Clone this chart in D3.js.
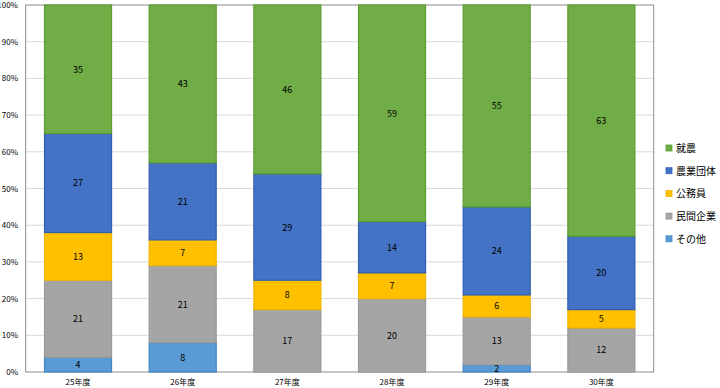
<!DOCTYPE html>
<html><head><meta charset="utf-8">
<script src="https://cdn.jsdelivr.net/npm/d3@7"></script>
<style>body{margin:0;background:#fff;}svg{display:block;font-family:"Noto Sans CJK JP","Noto Sans",sans-serif;}</style>
</head><body>
<svg id="chart" width="720" height="388"></svg>
<script>
const categories = ["25年度","26年度","27年度","28年度","29年度","30年度"];
const seriesNames = ["その他","民間企業","公務員","農業団体","就農"];
const sonota   = [4, 8, 0, 0, 2, 0];
const minkan   = [21, 21, 17, 20, 13, 12];
const koumuin  = [13, 7, 8, 7, 6, 5];
const noudan   = [27, 21, 29, 14, 24, 20];
const shuunou  = [35, 43, 46, 59, 55, 63];
const yTicks = [0,0.1,0.2,0.3,0.4,0.5,0.6,0.7,0.8,0.9,1.0];
const colors = ["#5B9BD5","#A5A5A5","#FFC000","#4472C4","#70AD47"];
const strokes = ["#3f86c9","#9a9a9a","#f0b400","#2f5fb3","#5a9e2e"];

const seriesVals = [sonota, minkan, koumuin, noudan, shuunou];
const rows = categories.map((c,i)=>{
  const r={cat:c}; let tot=0;
  seriesNames.forEach((s,j)=>{r[s]=seriesVals[j][i]; tot+=seriesVals[j][i];});
  r.total=tot; return r;
});
const norm = rows.map(r=>{const o={cat:r.cat}; seriesNames.forEach(s=>o[s]=r[s]/r.total); o.raw=r; return o;});
const stack = d3.stack().keys(seriesNames)(norm);

const svg = d3.select("#chart");
const L=25.7, R=653.7, T=5, B=372;
const x = d3.scaleBand().domain(categories).range([L,R]).paddingInner(0.35).paddingOuter(0.175);
const y = d3.scaleLinear().domain([0,1]).range([B,T]);

// gridlines
svg.append("g").selectAll("line").data(yTicks.slice(1,-1)).join("line")
  .attr("x1",L).attr("x2",R).attr("y1",d=>y(d)).attr("y2",d=>y(d))
  .attr("stroke","#d9d9d9").attr("stroke-width",1);

// plot border
svg.append("rect").attr("x",L).attr("y",T).attr("width",R-L).attr("height",B-T)
  .attr("fill","none").attr("stroke","#8c8c8c").attr("stroke-width",1);

// y labels
svg.append("g").selectAll("text").data(yTicks).join("text")
  .attr("x",18).attr("y",d=>y(d)+3).attr("text-anchor","end")
  .attr("font-size","8px").attr("fill","#000")
  .text(d=>d3.format(".0%")(d));

// bars
const g = svg.append("g");
stack.forEach((layer,j)=>{
  g.append("g").selectAll("rect").data(layer).join("rect")
    .attr("x",d=>x(d.data.cat)+0.5).attr("width",x.bandwidth()-1)
    .attr("y",d=>y(d[1])).attr("height",d=>Math.max(0,y(d[0])-y(d[1])))
    .attr("fill",colors[j]).attr("stroke",d=>(d[1]-d[0])>0?strokes[j]:"none").attr("stroke-width",1.2);
});
stack.forEach((layer,j)=>{
  g.append("g").selectAll("text").data(layer.filter(d=>d.data.raw[seriesNames[j]]>0)).join("text")
    .attr("x",d=>x(d.data.cat)+x.bandwidth()/2)
    .attr("y",d=>(y(d[0])+y(d[1]))/2+3.5)
    .attr("text-anchor","middle").attr("font-size","9px").attr("fill","#000")
    .text(d=>d.data.raw[seriesNames[j]]);
});

// x labels
svg.append("g").selectAll("text").data(categories).join("text")
  .attr("x",d=>x(d)+x.bandwidth()/2).attr("y",385).attr("text-anchor","middle")
  .attr("font-size","8px").attr("fill","#000").text(d=>d);

// legend (reverse order)
const leg = svg.append("g");
const legOrder = seriesNames.map((s,i)=>({s,i})).reverse();
legOrder.forEach((d,k)=>{
  const yy = 148 + k*22.7;
  leg.append("rect").attr("x",666).attr("y",yy-3).attr("width",6).attr("height",6)
    .attr("fill",colors[d.i]).attr("stroke",strokes[d.i]).attr("stroke-width",0.8);
  leg.append("text").attr("x",676).attr("y",yy+4).attr("font-size","10px").attr("fill","#000").text(d.s);
});
</script>
</body></html>
